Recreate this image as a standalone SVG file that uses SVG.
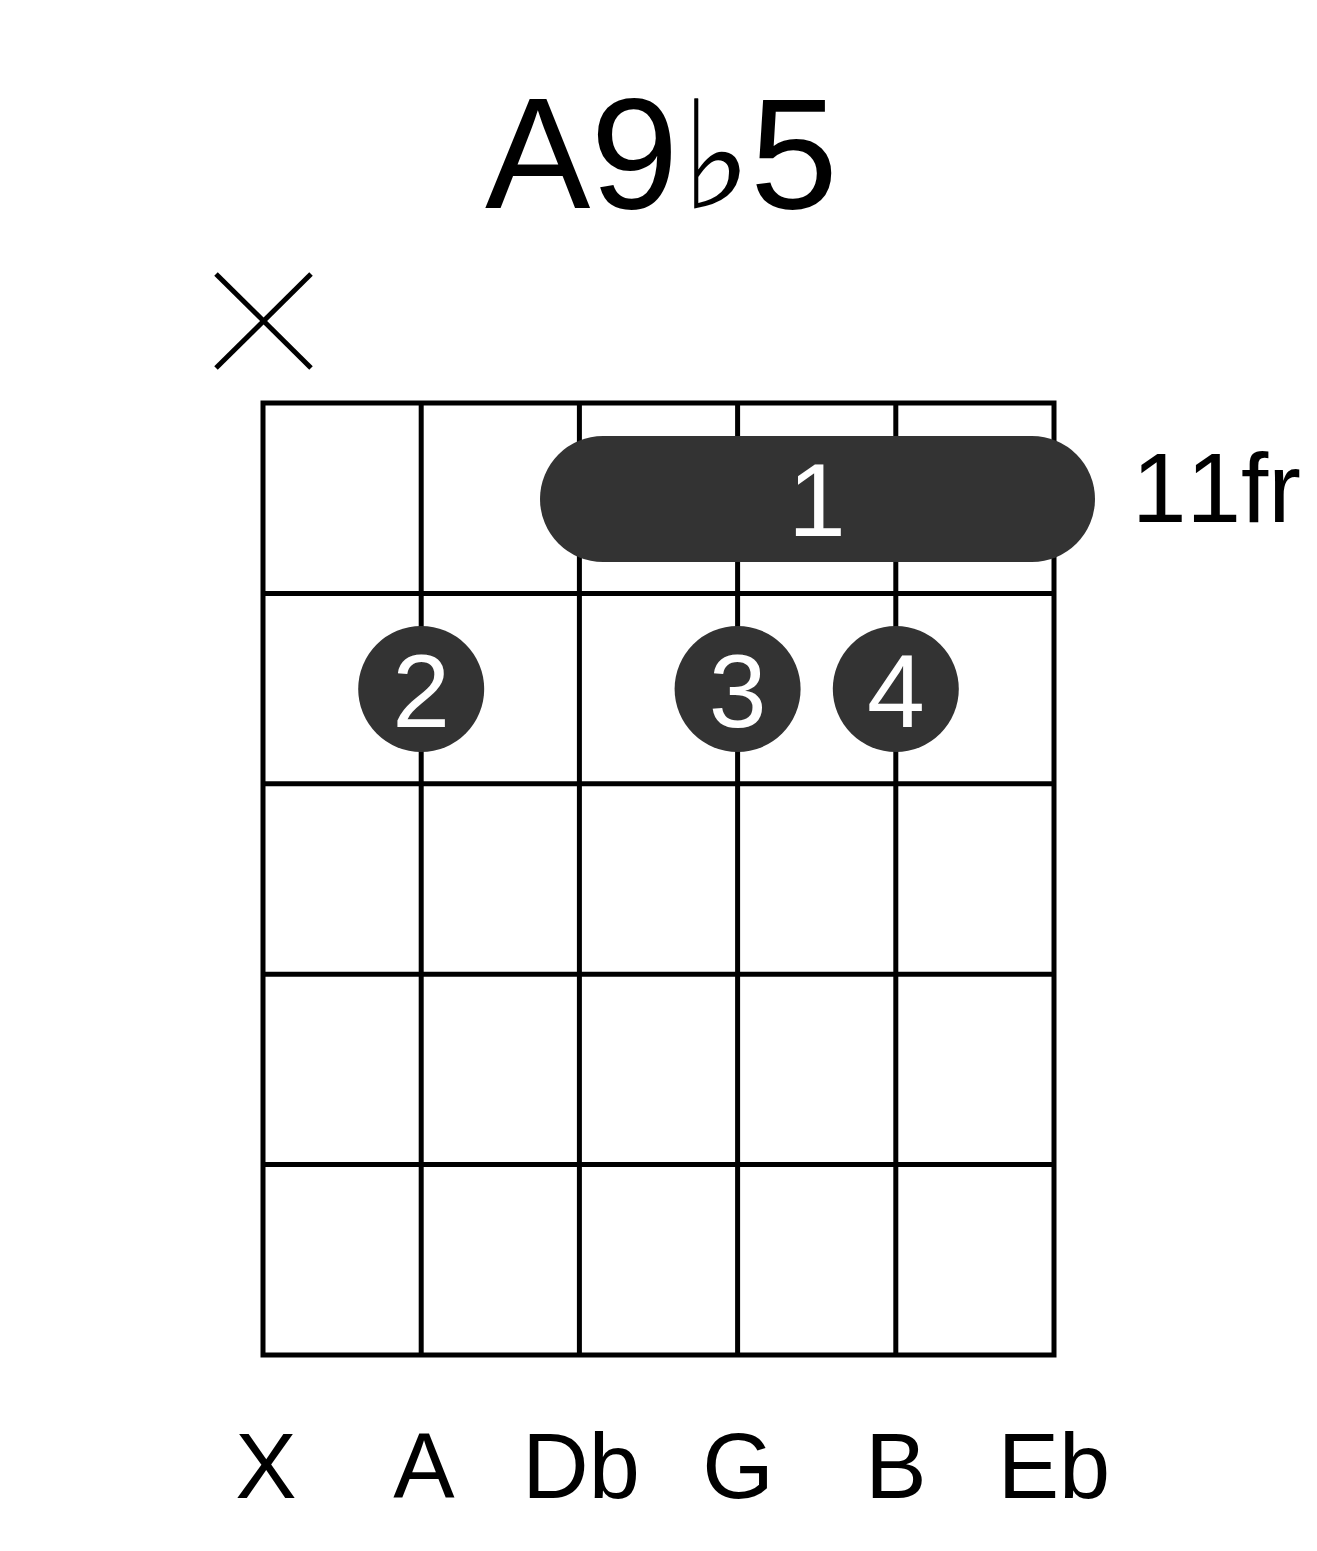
<svg xmlns="http://www.w3.org/2000/svg" width="1317" height="1551" viewBox="0 0 1317 1551">
<style>
text{font-kerning:none}
.ln{stroke:#000;stroke-width:5;fill:none}
.dot{fill:#333333}
.fn{font-family:"Liberation Sans",Arial,sans-serif;fill:#fff;font-size:104px;text-anchor:middle}
.lbl{font-family:"Liberation Sans",Arial,sans-serif;fill:#000;font-size:92px;text-anchor:middle}
</style>
<rect width="1317" height="1551" fill="#fff"/>
<g id="title">
<text y="208" font-family="'Liberation Sans',Arial,sans-serif" font-size="158" fill="#000"><tspan x="485">A9</tspan><tspan x="681" font-family="'DejaVu Serif','DejaVu Sans',serif" font-size="150">♭</tspan><tspan x="750">5</tspan></text>
</g>
<g id="mute">
<line class="ln" x1="216" y1="274" x2="311" y2="368"/>
<line class="ln" x1="311" y1="274" x2="216" y2="368"/>
</g>
<g id="grid">
<rect class="ln" x="263" y="403" width="791" height="952"/>
<line class="ln" x1="421.2" y1="403" x2="421.2" y2="1355"/>
<line class="ln" x1="579.4" y1="403" x2="579.4" y2="1355"/>
<line class="ln" x1="737.6" y1="403" x2="737.6" y2="1355"/>
<line class="ln" x1="895.8" y1="403" x2="895.8" y2="1355"/>
<line class="ln" x1="263" y1="593.4" x2="1054" y2="593.4"/>
<line class="ln" x1="263" y1="783.8" x2="1054" y2="783.8"/>
<line class="ln" x1="263" y1="974.2" x2="1054" y2="974.2"/>
<line class="ln" x1="263" y1="1164.6" x2="1054" y2="1164.6"/>
</g>
<g id="barre">
<rect class="dot" x="540" y="436" width="555" height="126" rx="63" ry="63"/>
<text class="fn" x="817" y="536">1</text>
</g>
<g id="finger2">
<circle class="dot" cx="421.2" cy="689" r="63"/>
<text class="fn" x="421.2" y="727">2</text>
</g>
<g id="finger3">
<circle class="dot" cx="737.6" cy="689" r="63"/>
<text class="fn" x="737.6" y="727">3</text>
</g>
<g id="finger4">
<circle class="dot" cx="895.8" cy="689" r="63"/>
<text class="fn" x="895.8" y="727">4</text>
</g>
<g id="fret-label">
<text x="1132" y="522" font-family="'Liberation Sans',Arial,sans-serif" font-size="98" fill="#000">11fr</text>
</g>
<g id="notes">
<text class="lbl" x="266" y="1498">X</text>
<text class="lbl" x="424" y="1498">A</text>
<text class="lbl" x="581" y="1498">Db</text>
<text class="lbl" x="738" y="1498">G</text>
<text class="lbl" x="896" y="1498">B</text>
<text class="lbl" x="1054" y="1498">Eb</text>
</g>
</svg>
